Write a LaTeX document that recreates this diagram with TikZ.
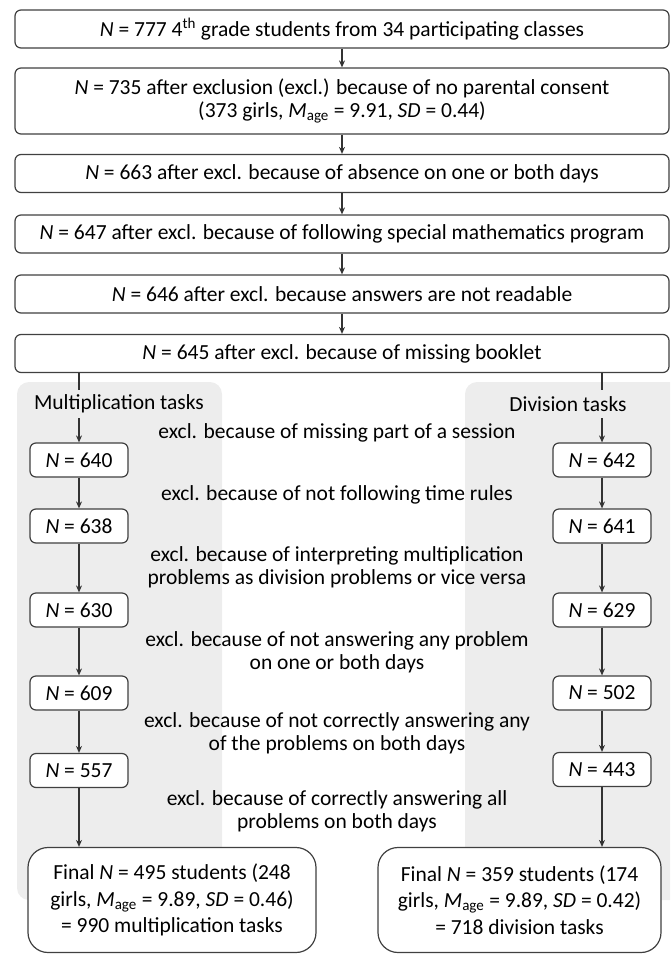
\documentclass[tikz,border=0pt]{standalone}
\usepackage{fontspec}
\setmainfont{Carlito}
\usetikzlibrary{arrows.meta}
\begin{document}
\begin{tikzpicture}[x=1pt,y=-1pt,
  font=\fontsize{21.5}{23}\selectfont,
  box/.style={draw=black!75, line width=1.2pt, rounded corners=6pt, align=center, inner sep=0pt, fill=white},
  topbox/.style={box, minimum width=654pt, minimum height=38pt},
  smallbox/.style={box, minimum width=98pt, minimum height=34pt},
  finalbox/.style={box, rounded corners=20pt, minimum height=105pt, font=\fontsize{21.5}{26.5}\selectfont},
  arr/.style={line width=1.1pt, draw=black!80, -{Stealth[length=7pt,width=6pt]}},
  ln/.style={line width=1.1pt, draw=black!80},
  excl/.style={align=center, inner sep=0pt},
  lbl/.style={inner sep=0pt, minimum height=28pt},
  panel/.style={fill=black!7, rounded corners=12pt}
]
\useasboundingbox (0,0) rectangle (670,954);
\begin{scope}
\clip (0,0) rectangle (670,954);
\fill[panel] (17,382) rectangle (222,900);
\fill[panel] (465,382) rectangle (690,900);
\end{scope}

\node[topbox] (b1) at (342,29) {\textit{N} = 777 4\textsuperscript{th} grade students from 34 participating classes};
\node[topbox, minimum height=66pt] (b2) at (342,101) {\textit{N} = 735 after exclusion (excl.) because of no parental consent\\(373 girls, \textit{M}\textsubscript{age} = 9.91, \textit{SD} = 0.44)};
\node[topbox] (b3) at (342,173.5) {\textit{N} = 663 after excl. because of absence on one or both days};
\node[topbox] (b4) at (342,234) {\textit{N} = 647 after excl. because of following special mathematics program};
\node[topbox] (b5) at (342,294) {\textit{N} = 646 after excl. because answers are not readable};
\node[topbox] (b6) at (342,353.5) {\textit{N} = 645 after excl. because of missing booklet};

\draw[arr] (b1) -- (b2);
\draw[arr] (b2) -- (b3);
\draw[arr] (b3) -- (b4);
\draw[arr] (b4) -- (b5);
\draw[arr] (b5) -- (b6);

\node[lbl] (mult) at (119,404) {Multiplication tasks};
\node[lbl] (div) at (568,404) {Division tasks};

\node[smallbox] (m1) at (79,460) {\textit{N} = 640};
\node[smallbox] (m2) at (79,526) {\textit{N} = 638};
\node[smallbox] (m3) at (79,610) {\textit{N} = 630};
\node[smallbox] (m4) at (79,693) {\textit{N} = 609};
\node[smallbox] (m5) at (79,770.5) {\textit{N} = 557};

\node[smallbox] (r1) at (602,460) {\textit{N} = 642};
\node[smallbox] (r2) at (602,526) {\textit{N} = 641};
\node[smallbox] (r3) at (602,610) {\textit{N} = 629};
\node[smallbox] (r4) at (602,693) {\textit{N} = 502};
\node[smallbox] (r5) at (602,769.5) {\textit{N} = 443};

\node[finalbox, minimum width=288pt] (fl) at (172,900) {Final \textit{N} = 495 students (248\\girls, \textit{M}\textsubscript{age} = 9.89, \textit{SD} = 0.46)\\= 990 multiplication tasks};
\node[finalbox, minimum width=283pt] (fr) at (519.5,900) {Final \textit{N} = 359 students (174\\girls, \textit{M}\textsubscript{age} = 9.89, \textit{SD} = 0.42)\\= 718 division tasks};

\node[excl] (t1) at (337,433) {excl. because of missing part of a session};
\node[excl] (t2) at (337,495) {excl. because of not following time rules};
\node[excl] (t3) at (337,567) {excl. because of interpreting multiplication\\problems as division problems or vice versa};
\node[excl] (t4) at (337,652) {excl. because of not answering any problem\\on one or both days};
\node[excl] (t5) at (337,733) {excl. because of not correctly answering any\\of the problems on both days};
\node[excl] (t6) at (337,811) {excl. because of correctly answering all\\problems on both days};

\draw[ln] (b6.south -| m1) -- (mult.north -| m1);
\draw[ln] (b6.south -| r1) -- (div.north -| r1);
\draw[arr] (mult.south -| m1) -- (m1);
\draw[arr] (div.south -| r1) -- (r1);
\draw[arr] (m1) -- (m2);
\draw[arr] (m2) -- (m3);
\draw[arr] (m3) -- (m4);
\draw[arr] (m4) -- (m5);
\draw[arr] (m5) -- (m5 |- fl.north);
\draw[arr] (r1) -- (r2);
\draw[arr] (r2) -- (r3);
\draw[arr] (r3) -- (r4);
\draw[arr] (r4) -- (r5);
\draw[arr] (r5) -- (r5 |- fr.north);
\end{tikzpicture}
\end{document}
